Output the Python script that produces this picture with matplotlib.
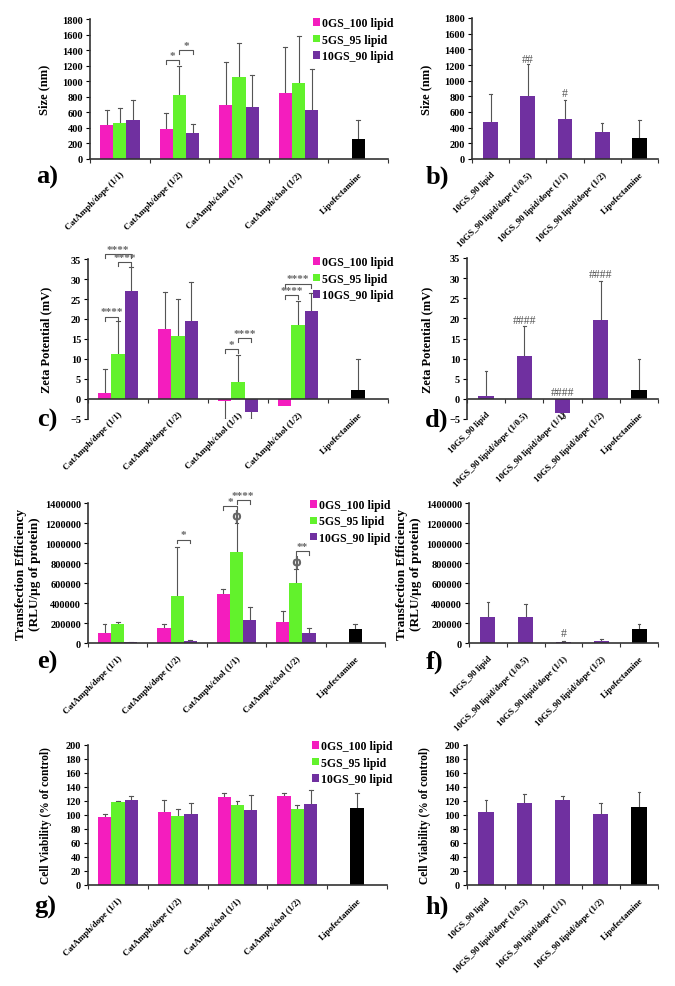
import matplotlib
matplotlib.use("Agg")
import matplotlib.pyplot as plt
import numpy as np

plt.rcParams['font.family'] = ['Liberation Serif', 'DejaVu Serif']
plt.rcParams['font.weight'] = 'bold'

# --- data ---
groups_left = ['CatAmph/dope (1/1)', 'CatAmph/dope (1/2)', 'CatAmph/chol (1/1)',
               'CatAmph/chol (1/2)', 'Lipofectamine']
groups_right = ['10GS_90 lipid', '10GS_90 lipid/dope (1/0.5)', '10GS_90 lipid/dope (1/1)',
                '10GS_90 lipid/dope (1/2)', 'Lipofectamine']
series_names = ['0GS_100 lipid', '5GS_95 lipid', '10GS_90 lipid']

# size (nm)
size_0gs = [437, 381, 699, 853]
size_0gs_sd = [197, 206, 544, 591]
size_5gs = [459, 827, 1050, 977]
size_5gs_sd = [192, 364, 437, 604]
size_10gs = [497, 339, 664, 634]
size_10gs_sd = [257, 111, 412, 519]
size_lipo, size_lipo_sd = 263, 238
size_right = [477, 808, 510, 340, 263]
size_right_sd = [353, 400, 247, 115, 238]

# zeta potential (mV)
zeta_0gs = [1.5, 17.4, -0.5, -1.8]
zeta_0gs_sd = [5.9, 9.3, 4.5, 0]
zeta_5gs = [11.3, 15.8, 4.2, 18.4]
zeta_5gs_sd = [8.1, 9.1, 6.8, 6.2]
zeta_10gs = [27.1, 19.5, -3.2, 22.0]
zeta_10gs_sd = [6.0, 9.8, 1.8, 4.5]
zeta_lipo, zeta_lipo_sd = 2.2, 7.7
zeta_right = [0.66, 10.7, -3.4, 19.5, 2.2]
zeta_right_sd = [6.2, 7.3, 1.4, 9.8, 7.7]

# transfection efficiency (RLU/ug protein)
tf_0gs = [100000, 150000, 490000, 213000]
tf_0gs_sd = [93000, 43000, 50000, 110000]
tf_5gs = [187000, 473000, 913000, 600000]
tf_5gs_sd = [20000, 487000, 287000, 140000]
tf_10gs = [10000, 20000, 230000, 97000]
tf_10gs_sd = [3000, 10000, 130000, 56000]
tf_lipo, tf_lipo_sd = 137000, 50000
tf_right = [263000, 263000, 10000, 20000, 137000]
tf_right_sd = [150000, 124000, 7000, 17000, 50000]

# cell viability (% of control)
cv_0gs = [97, 105, 126, 127]
cv_0gs_sd = [4, 17, 5, 5]
cv_5gs = [119, 98, 114, 108.5]
cv_5gs_sd = [1, 10, 5.5, 6.5]
cv_10gs = [121, 101, 107, 116]
cv_10gs_sd = [6, 16, 21, 19.6]
cv_lipo, cv_lipo_sd = 110.5, 21.5
cv_right = [104.7, 116.6, 121, 101.4, 110.9]
cv_right_sd = [16.7, 12.9, 5.6, 15.2, 21.9]

# significance brackets: (group, bar_from, bar_to, height, text)
brackets_a = [(1, 0, 1, 1270, '*'), (1, 1, 2, 1400, '*')]
brackets_c = [(0, 0, 1, 20.6, '****'), (0, 1, 2, 34.2, '****'), (0, 0, 2, 36.2, '****'),
              (2, 0, 1, 12.4, '*'), (2, 1, 2, 15.2, '****'),
              (3, 0, 1, 25.9, '****'), (3, 0, 2, 28.8, '****')]
brackets_e = [(1, 1, 2, 1033000, '*'), (2, 0, 1, 1367000, '*'),
              (2, 1, 2, 1427000, '****'), (3, 1, 2, 917000, '**')]
phi_e = [(2, 1, 1273000), (3, 1, 817000)]
hash_b = [(1, 1277, '##'), (2, 842, '#')]
hash_d = [(1, 19.6, '####'), (2, 1.6, '####'), (3, 31.0, '####')]
hash_f = [(2, 100000, '#')]

colors = ['#F41DBE', '#62F22C', '#7030A0']
lipo_color = 'black'
err_color = '#555555'

W, H = 675, 987
fig = plt.figure(figsize=(W / 100, H / 100), dpi=100)


def px_axes(x0, y0, x1, y1):
    return fig.add_axes([x0 / W, 1 - y1 / H, (x1 - x0) / W, (y1 - y0) / H])


def style_axes(ax, labels, ylim, yticks, ylabel, labelpad, ysize=9, fmt=None):
    for s in ['top', 'right']:
        ax.spines[s].set_visible(False)
    ax.spines['left'].set_color('#333333')
    ax.spines['bottom'].set_color('#333333')
    ax.spines['left'].set_linewidth(1.2)
    ax.spines['bottom'].set_linewidth(1.2)
    ax.set_xlim(-0.5, 4.5)
    ax.set_ylim(*ylim)
    ax.spines['bottom'].set_position(('data', 0))
    ax.set_xticks(np.arange(-0.5, 5.0, 1.0))
    ax.set_xticklabels([])
    ax.tick_params(axis='x', which='major', direction='out', length=3, color='#333333')
    ax.set_xticks(np.arange(5), minor=True)
    ax.set_xticklabels(labels, minor=True, rotation=45, ha='right',
                       rotation_mode='anchor', fontsize=6.5, fontweight='bold')
    ax.tick_params(axis='x', which='minor', length=0, pad=8)
    ax.set_yticks(yticks)
    if fmt:
        ax.set_yticklabels([fmt(v) for v in yticks])
    ax.tick_params(axis='y', direction='out', length=3, labelsize=7.5, pad=2)
    for t in ax.get_yticklabels():
        t.set_fontweight('bold')
    ax.set_ylabel(ylabel, fontsize=ysize, fontweight='bold', labelpad=labelpad)


def errbar(ax, x, y, sd, width):
    sign = 1 if y >= 0 else -1
    ax.plot([x, x], [y, y + sign * sd], color=err_color, lw=0.8, zorder=1)
    ax.plot([x - width * 0.15, x + width * 0.15], [y + sign * sd] * 2, color=err_color, lw=0.8, zorder=1)


def grouped_panel(ax, series, sds, lipo, lipo_sd, brackets, leg_y):
    w = 0.222
    x = np.arange(4)
    for i, (vals, sd) in enumerate(zip(series, sds)):
        xs = x + (i - 1) * w
        ax.bar(xs, vals, width=w, color=colors[i], label=series_names[i], zorder=2)
        for xi, v, s in zip(xs, vals, sd):
            if s > 0:
                errbar(ax, xi, v, s, w)
    ax.bar([4], [lipo], width=w, color=lipo_color, zorder=2)
    errbar(ax, 4, lipo, lipo_sd, w)
    ylo, yhi = ax.get_ylim()
    tick = (yhi - ylo) * 0.025
    for g, b0, b1, h, txt in brackets:
        x0 = g + (b0 - 1) * w
        x1 = g + (b1 - 1) * w
        ax.plot([x0, x0, x1, x1], [h - tick, h, h, h - tick], color=err_color,
                lw=0.8, clip_on=False)
        ax.text((x0 + x1) / 2, h + tick * 0.1, txt, ha='center', va='bottom',
                fontsize=8, color='#666666', clip_on=False)
    ax.legend(loc='upper right', bbox_to_anchor=(1.055, leg_y), frameon=False,
              handlelength=0.6, handleheight=0.6, handletextpad=0.2,
              labelspacing=0.38, prop={'size': 8.5, 'weight': 'bold'})


def single_panel(ax, vals, sd, hashes):
    w = 0.4
    x = np.arange(5)
    cols = [colors[2]] * 4 + [lipo_color]
    ax.bar(x, vals, width=w, color=cols, zorder=2)
    for xi, v, s in zip(x, vals, sd):
        errbar(ax, xi, v, s, w * 0.55)
    for g, h, txt in hashes:
        ax.text(g, h, txt, ha='center', va='center', fontsize=8.5,
                fontweight='normal', color='#555555')


def kfmt(v):
    return '%d' % v


# a
ax = px_axes(90, 20, 388, 160)
style_axes(ax, groups_left, (0, 1800), np.arange(0, 1801, 200), 'Size (nm)', 9)
grouped_panel(ax, [size_0gs, size_5gs, size_10gs], [size_0gs_sd, size_5gs_sd, size_10gs_sd],
              size_lipo, size_lipo_sd, brackets_a, 1.09)
# b
ax = px_axes(472, 19, 658, 160)
style_axes(ax, groups_right, (0, 1800), np.arange(0, 1801, 200), 'Size (nm)', 9)
single_panel(ax, size_right, size_right_sd, hash_b)
# c
ax = px_axes(88, 260, 388, 420)
style_axes(ax, groups_left, (-5, 35), np.arange(-5, 36, 5), 'Zeta Potential (mV)', 13)
grouped_panel(ax, [zeta_0gs, zeta_5gs, zeta_10gs], [zeta_0gs_sd, zeta_5gs_sd, zeta_10gs_sd],
              zeta_lipo, zeta_lipo_sd, brackets_c, 1.085)
# d
ax = px_axes(467, 259, 658, 420)
style_axes(ax, groups_right, (-5, 35), np.arange(-5, 36, 5), 'Zeta Potential (mV)', 11)
single_panel(ax, zeta_right, zeta_right_sd, hash_d)
# e
ax = px_axes(88, 504, 385, 644)
style_axes(ax, groups_left, (0, 1400000), np.arange(0, 1400001, 200000),
           'Transfection Efficiency\n(RLU/µg of protein)', 3, 9.5, kfmt)
grouped_panel(ax, [tf_0gs, tf_5gs, tf_10gs], [tf_0gs_sd, tf_5gs_sd, tf_10gs_sd],
              tf_lipo, tf_lipo_sd, brackets_e, 1.105)
w = 0.222
for g, b, h in phi_e:
    ax.text(g + (b - 1) * w, h, 'ϕ', ha='center', va='center', fontsize=9,
            color='#666666', family='DejaVu Sans')
# f
ax = px_axes(469, 504, 658, 644)
style_axes(ax, groups_right, (0, 1400000), np.arange(0, 1400001, 200000),
           'Transfection Efficiency\n(RLU/µg of protein)', 3, 9.5, kfmt)
single_panel(ax, tf_right, tf_right_sd, hash_f)
# g
ax = px_axes(88, 746, 387, 886)
style_axes(ax, groups_left, (0, 200), np.arange(0, 201, 20), 'Cell Viability (% of control)', 10, 8.3)
grouped_panel(ax, [cv_0gs, cv_5gs, cv_10gs], [cv_0gs_sd, cv_5gs_sd, cv_10gs_sd],
              cv_lipo, cv_lipo_sd, [], 1.11)
# h
ax = px_axes(467, 746, 658, 886)
style_axes(ax, groups_right, (0, 200), np.arange(0, 201, 20), 'Cell Viability (% of control)', 10, 8.3)
single_panel(ax, cv_right, cv_right_sd, [])

# panel letters
for lbl, x, y in [('a)', 47, 177), ('b)', 437, 177), ('c)', 47, 420), ('d)', 437, 420),
                  ('e)', 47, 662), ('f)', 435, 662), ('g)', 45, 907), ('h)', 437, 907)]:
    fig.text(x / W, 1 - y / H, lbl, fontsize=19, fontweight='bold', ha='center', va='center')

fig.savefig('out.png', dpi=100)
